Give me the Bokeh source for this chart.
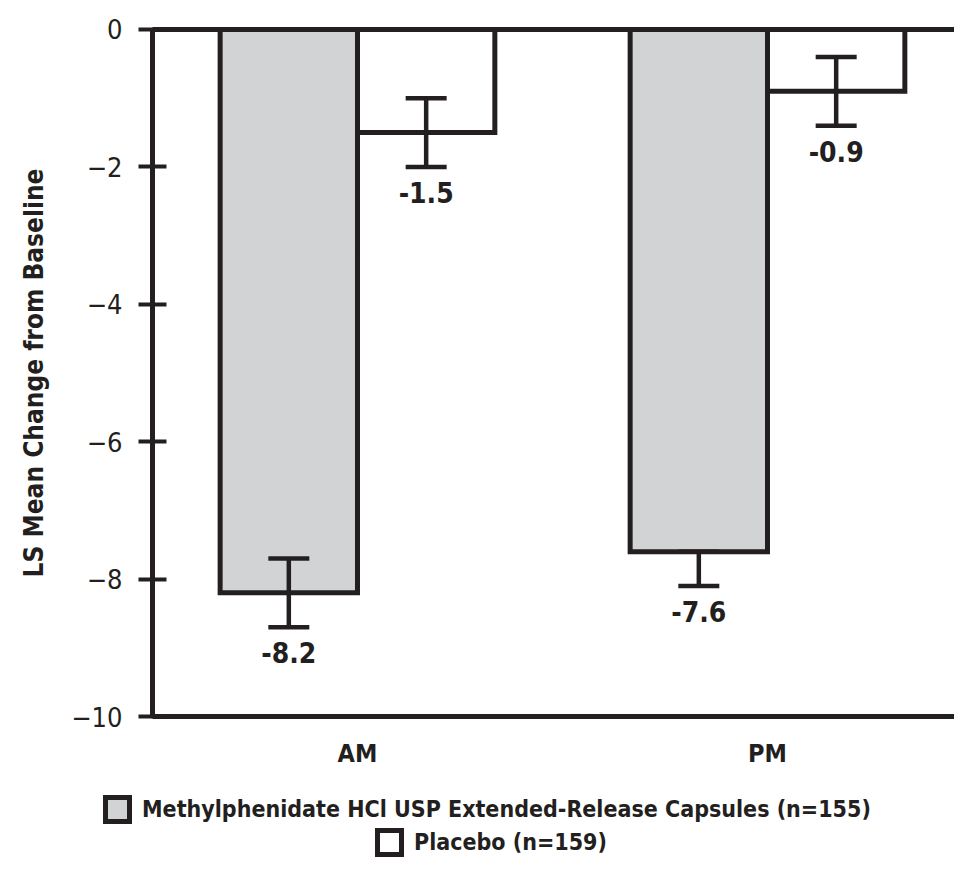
from bokeh.plotting import figure
from bokeh.models import (Range1d, FixedTicker, Whisker, TeeHead, LinearAxis,
                          ColumnDataSource, Legend, LegendItem)
from bokeh.core.properties import value
from bokeh.embed import file_html
from bokeh.resources import INLINE

# ---- data ----
categories = ["AM", "PM"]
series_names = ["Methylphenidate HCl USP Extended-Release Capsules (n=155)",
                "Placebo (n=159)"]
methylphenidate = [-8.2, -7.6]
placebo = [-1.5, -0.9]
methylphenidate_err_lower = [0.5, 0.5]
methylphenidate_err_upper = [0.5, 0.0]
placebo_err_lower = [0.5, 0.5]
placebo_err_upper = [0.5, 0.5]
y_ticks = [0, -2, -4, -6, -8, -10]
y_title = "LS Mean Change from Baseline"

# ---- style ----
FONT_STR = "'DejaVu Sans Condensed', 'DejaVu Sans', sans-serif"
FONT = value(FONT_STR)
INK = "#231f20"
GRAY = "#d1d3d4"
BAR_W = 0.335
OFFSETS = [-BAR_W / 2, BAR_W / 2]
FILLS = [GRAY, "white"]

W, H = 954, 859
# the plotting frame fills the canvas; axes are pinned inside it
X_START, X_END = -0.8707, 1.4561
Y_START, Y_END = -12.081, 0.4221
Y_LO, Y_HI = min(y_ticks), max(y_ticks)
X_AXIS_POS = -0.5          # left edge of the first group

p = figure(width=W, height=H, output_backend="svg", toolbar_location=None,
           x_range=Range1d(X_START, X_END), y_range=Range1d(Y_START, Y_END),
           x_axis_location=None, y_axis_location=None,
           min_border=0)
p.outline_line_color = None
p.xgrid.visible = False
p.ygrid.visible = False
p.background_fill_color = "white"
p.border_fill_color = "white"

series = [
    (methylphenidate, methylphenidate_err_lower, methylphenidate_err_upper),
    (placebo, placebo_err_lower, placebo_err_upper),
]

renderers = []
for k, (vals, elo, ehi) in enumerate(series):
    xs = [i + OFFSETS[k] for i in range(len(categories))]
    src = ColumnDataSource(dict(
        x=xs, top=[0] * len(vals), bottom=vals,
        lower=[v - e for v, e in zip(vals, elo)],
        upper=[v + e for v, e in zip(vals, ehi)],
        label=[f"{v:.1f}" for v in vals],
    ))
    r = p.vbar(x="x", top="top", bottom="bottom", width=BAR_W, source=src,
               fill_color=FILLS[k], line_color=INK, line_width=5,
               line_join="miter")
    renderers.append(r)
    w = Whisker(base="x", lower="lower", upper="upper", source=src,
                dimension="height", line_color=INK, line_width=4.5,
                level="annotation",
                upper_head=TeeHead(size=41, line_color=INK, line_width=4.5),
                lower_head=TeeHead(size=41, line_color=INK, line_width=4.5))
    p.add_layout(w)
    p.text(x="x", y="lower", text="label", source=src, text_align="center",
           text_baseline="top", y_offset=15, text_font=FONT,
           text_font_size="28px", text_font_style="bold", text_color=INK)

# y axis pinned at the left edge of the first group
ya = LinearAxis(fixed_location=X_AXIS_POS, bounds=(Y_LO, Y_HI),
                ticker=FixedTicker(ticks=y_ticks))
ya.minor_tick_line_color = None
ya.axis_line_width = 5
ya.axis_line_color = INK
ya.major_tick_line_width = 4
ya.major_tick_line_color = INK
ya.major_tick_in = 14
ya.major_tick_out = 14
ya.major_label_standoff = 16
ya.major_label_text_font = FONT_STR
ya.major_label_text_font_size = "27px"
ya.major_label_text_color = INK
ya.axis_label = y_title
ya.axis_label_text_font = FONT_STR
ya.axis_label_text_font_size = "26px"
ya.axis_label_text_font_style = "bold"
ya.axis_label_text_color = INK
ya.axis_label_standoff = 19
p.add_layout(ya, "left")

# x axis pinned at the bottom of the value scale
xa = LinearAxis(fixed_location=Y_LO, bounds=(X_AXIS_POS, X_END),
                ticker=FixedTicker(ticks=list(range(len(categories)))))
xa.major_label_overrides = {i: c for i, c in enumerate(categories)}
xa.minor_tick_line_color = None
xa.major_tick_in = 0
xa.major_tick_out = 0
xa.axis_line_width = 5
xa.axis_line_color = INK
xa.major_label_standoff = 22
xa.major_label_text_font = FONT_STR
xa.major_label_text_font_size = "25px"
xa.major_label_text_font_style = "bold"
xa.major_label_text_color = INK
p.add_layout(xa, "below")

# zero line (top of the bars)
za = LinearAxis(fixed_location=Y_HI, bounds=(X_AXIS_POS, X_END),
                ticker=FixedTicker(ticks=[]))
za.minor_tick_line_color = None
za.major_tick_line_color = None
za.major_label_text_alpha = 0
za.axis_line_width = 5
za.axis_line_color = INK
p.add_layout(za, "above")

# legend rows, each centred under the chart (screen px from frame bottom-left)
legend_locs = [(102, 35), (374, 2)]
for k, r in enumerate(renderers):
    leg = Legend(items=[LegendItem(label=series_names[k], renderers=[r])],
                 location=legend_locs[k], orientation="horizontal",
                 padding=0, margin=0, spacing=0,
                 glyph_width=30, glyph_height=30, label_standoff=10,
                 border_line_color=None, background_fill_alpha=0,
                 label_text_font=FONT_STR, label_text_font_size="23px",
                 label_text_font_style="bold", label_text_color=INK)
    p.add_layout(leg)

open("out.html", "w").write(file_html(p, INLINE))
